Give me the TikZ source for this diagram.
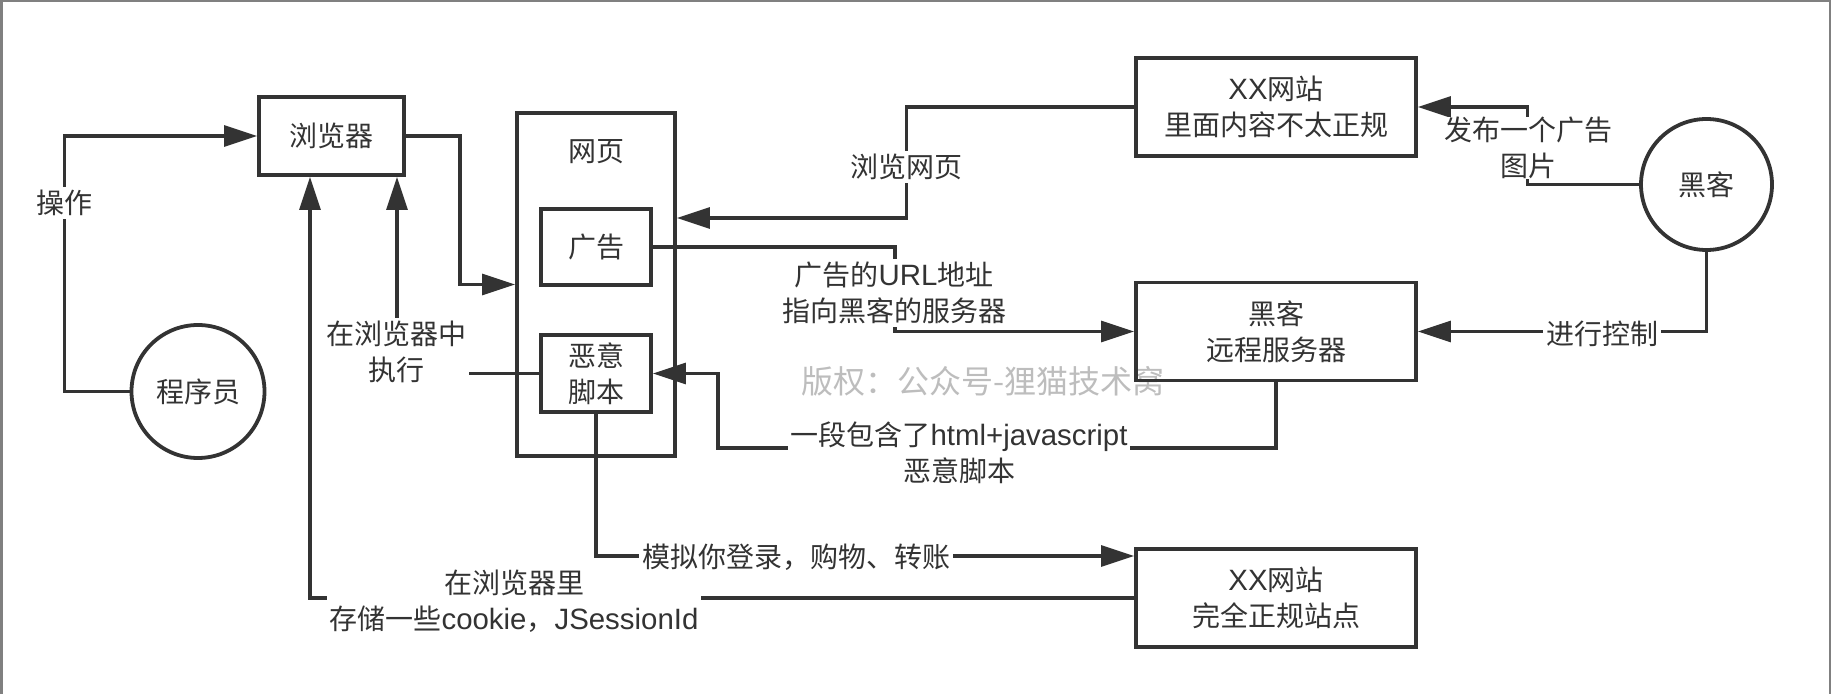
\documentclass[tikz,border=0pt]{standalone}
\usepackage{fontspec}
\setmainfont{Noto Sans CJK SC}
\newfontfamily\latfont[Scale=1.05]{Liberation Sans}
\newcommand{\lsf}[1]{{\latfont #1}}
\usetikzlibrary{arrows.meta}
\definecolor{ink}{HTML}{333333}
\definecolor{wmgray}{HTML}{BDBDBD}
\definecolor{rim}{HTML}{808080}
\tikzset{
  box/.style={draw=ink, line width=1.9pt, text=ink, align=center, inner sep=0pt},
  actor/.style={circle, draw=ink, line width=1.9pt, text=ink, inner sep=0pt, minimum size=#1},
  link/.style={draw=ink, line width=1.6pt, -{Triangle[length=16.5pt,width=10.5pt]}},
  note/.style={fill=white, text=ink, align=center, inner sep=1.5pt},
}

\begin{document}
\begin{tikzpicture}[x=0.5pt, y=-0.5pt, font=\fontsize{14pt}{18pt}\selectfont]
        \useasboundingbox (0,0) rectangle (1831,694);
        % --- Frame of the screenshot ---
        \draw[rim, line width=1.5pt] (1.5,694) -- (1.5,0);
        \draw[rim, line width=1pt] (0,0.8) -- (1831,0.8);
        \draw[rim, line width=1pt] (1830,0) -- (1830,694);
        % ---

        % --- Watermark ---
        \node[text=wmgray, font=\fontsize{16pt}{18pt}\selectfont] (wm) at (983,381) {版权：公众号-狸猫技术窝};
        % ---

        % --- Boxes and actors ---
        \node[box, minimum width=72.5pt, minimum height=39pt] (browser) at (331.5,136) {浏览器};
        \node[box, minimum width=79pt, minimum height=171.5pt] (page) at (596,284.5) {};
        \node[text=ink] (pagetitle) at (596,152) {网页};
        \node[box, minimum width=55pt, minimum height=38pt] (ad) at (596,247) {广告};
        \node[box, minimum width=55pt, minimum height=38.5pt] (script) at (596,373.5) {恶意\\脚本};
        \node[box, minimum width=140pt, minimum height=49pt] (site1) at (1276,107) {\lsf{XX}网站\\里面内容不太正规};
        \node[box, minimum width=140pt, minimum height=49pt] (server) at (1276,331.5) {黑客\\远程服务器};
        \node[box, minimum width=140pt, minimum height=49pt] (site2) at (1276,598) {\lsf{XX}网站\\完全正规站点};
        \node[actor=66.5pt] (coder) at (198,391.5) {程序员};
        \node[actor=65.5pt] (hacker) at (1706.5,184.5) {黑客};
        % ---

        % --- Connectors ---
        \draw[link] (coder.west) -- ++(-65,0) |- (browser.west);
        \draw[link] (browser.east) -- ++(54,0) |- (page.west);
        \draw[link] (script.west) -| (browser.south -| 397,0);
        \draw[link] (site2.west) -| (browser.south -| 310,0);
        \draw[link] (script.south) |- (site2.west |- 0,556);
        \draw[link] (hacker.west) -- ++(-112,0) |- (site1.east);
        \draw[link] (hacker.south) |- (server.east);
        \draw[link] (site1.west) -- ++(-228,0) |- (page.east |- 0,218);
        \draw[link] (ad.east) -- ++(242,0) |- (server.west);
        \draw[link] (server.south) |- (718,448) |- (script.east);
        % ---

        % --- Labels on the connectors ---
        \node[note] (opl) at (64,203) {操作};
        \node[note] (runl) at (396,352) {在浏览器中\\执行};
        \node[note] (storel) at (514,601) {在浏览器里\\存储一些\lsf{cookie}，\lsf{JSessionId}};
        \node[note] (fakel) at (796,557) {模拟你登录，购物、转账};
        \node[note, inner ysep=0pt] (postl) at (1528,148) {发布一个广告\\图片};
        \node[note] (ctrll) at (1602,334) {进行控制};
        \node[note] (viewl) at (906,167) {浏览网页};
        \node[note] (urll) at (894,293) {广告的\lsf{URL}地址\\指向黑客的服务器};
        \node[note] (codel) at (959,453) {一段包含了\lsf{html+javascript}\\恶意脚本};
        % ---
\end{tikzpicture}
\end{document}
